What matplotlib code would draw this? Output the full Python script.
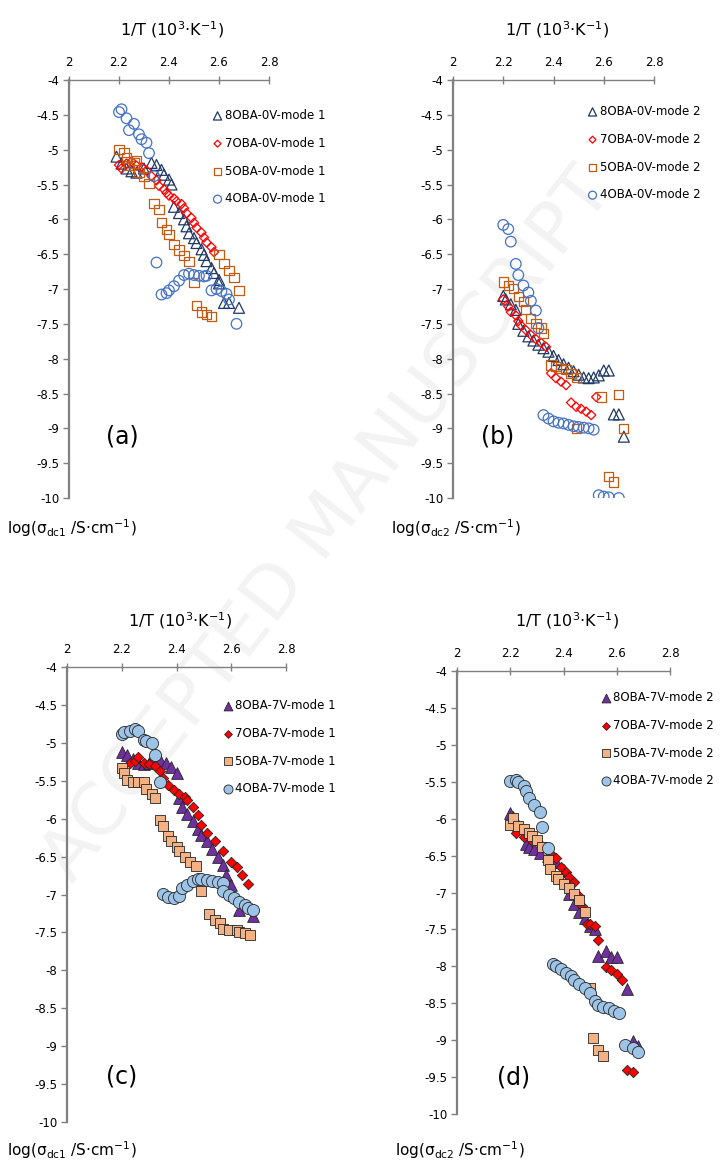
import numpy as np
import matplotlib
matplotlib.use("Agg")
import matplotlib.pyplot as plt

# ---------------- data ----------------
# panel (a): 0 V, mode 1
a8_x = [2.19, 2.21, 2.23, 2.25, 2.27, 2.30, 2.33, 2.35, 2.37, 2.38, 2.40, 2.41, 2.42, 2.44, 2.46, 2.47,
        2.48, 2.50, 2.51, 2.53, 2.54, 2.55, 2.57, 2.58, 2.60, 2.60, 2.62, 2.64, 2.68]
a8_y = [-5.10, -5.20, -5.27, -5.31, -5.33, -5.27, -5.19, -5.22, -5.29, -5.36, -5.43, -5.50, -5.82, -5.91, -6.00, -6.10,
        -6.20, -6.27, -6.34, -6.43, -6.51, -6.60, -6.70, -6.77, -6.87, -6.92, -7.20, -7.20, -7.27]
a7_x = [2.20, 2.21, 2.23, 2.25, 2.27, 2.29, 2.31, 2.33, 2.35, 2.36, 2.38, 2.39, 2.40, 2.42, 2.43, 2.45,
        2.46, 2.47, 2.49, 2.50, 2.51, 2.53, 2.54, 2.55, 2.57, 2.58]
a7_y = [-5.22, -5.27, -5.20, -5.17, -5.23, -5.25, -5.30, -5.38, -5.44, -5.52, -5.57, -5.62, -5.66, -5.70, -5.74, -5.78,
        -5.84, -5.91, -5.98, -6.05, -6.12, -6.19, -6.26, -6.33, -6.40, -6.47]
a5_x = [2.20, 2.22, 2.23, 2.24, 2.26, 2.27, 2.28, 2.30, 2.32, 2.34, 2.36, 2.37, 2.39, 2.40, 2.42, 2.44,
        2.46, 2.48, 2.50, 2.51, 2.53, 2.55, 2.57, 2.60, 2.62, 2.64, 2.66, 2.68]
a5_y = [-5.00, -5.04, -5.12, -5.23, -5.19, -5.15, -5.33, -5.38, -5.49, -5.77, -5.86, -6.05, -6.15, -6.22, -6.36, -6.44,
        -6.52, -6.60, -6.91, -7.24, -7.33, -7.37, -7.39, -6.51, -6.63, -6.73, -6.84, -7.02]
a4_x = [2.20, 2.21, 2.23, 2.24, 2.26, 2.28, 2.29, 2.31, 2.32, 2.34, 2.35, 2.37, 2.39, 2.40, 2.42, 2.44,
        2.46, 2.48, 2.50, 2.52, 2.54, 2.55, 2.57, 2.59, 2.61, 2.63, 2.64, 2.67]
a4_y = [-4.46, -4.42, -4.55, -4.72, -4.63, -4.78, -4.85, -4.90, -5.05, -5.38, -6.62, -7.08, -7.06, -7.02, -6.96, -6.88,
        -6.80, -6.78, -6.80, -6.81, -6.82, -6.81, -7.02, -7.00, -7.03, -7.07, -7.15, -7.50]

# panel (b): 0 V, mode 2
b8_x = [2.20, 2.21, 2.23, 2.25, 2.26, 2.28, 2.30, 2.32, 2.34, 2.36, 2.38, 2.40, 2.42, 2.44, 2.46, 2.48,
        2.50, 2.52, 2.54, 2.56, 2.58, 2.60, 2.62, 2.64, 2.66, 2.68]
b8_y = [-7.10, -7.15, -7.22, -7.30, -7.50, -7.60, -7.68, -7.74, -7.80, -7.85, -7.90, -7.96, -8.02, -8.08, -8.13, -8.18,
        -8.23, -8.27, -8.28, -8.27, -8.24, -8.17, -8.17, -8.80, -8.80, -9.12]
b7_x = [2.20, 2.22, 2.23, 2.25, 2.26, 2.27, 2.29, 2.31, 2.33, 2.35, 2.37, 2.39, 2.41, 2.43, 2.45, 2.47,
        2.49, 2.51, 2.53, 2.55, 2.57]
b7_y = [-7.15, -7.25, -7.33, -7.38, -7.46, -7.52, -7.59, -7.66, -7.72, -7.77, -7.83, -8.21, -8.28, -8.33, -8.38, -8.63,
        -8.69, -8.72, -8.76, -8.81, -8.55]
b5_x = [2.20, 2.22, 2.24, 2.26, 2.28, 2.29, 2.31, 2.33, 2.35, 2.36, 2.39, 2.41, 2.43, 2.45, 2.47, 2.49,
        2.49, 2.59, 2.62, 2.64, 2.66, 2.68]
b5_y = [-6.90, -6.95, -6.99, -7.11, -7.18, -7.29, -7.42, -7.49, -7.56, -7.64, -8.09, -8.11, -8.14, -8.16, -8.21, -8.27,
        -9.00, -8.55, -9.69, -9.77, -8.52, -9.00]
b4_x = [2.20, 2.22, 2.23, 2.25, 2.26, 2.28, 2.30, 2.31, 2.33, 2.34, 2.36, 2.38, 2.40, 2.42, 2.44, 2.46,
        2.48, 2.50, 2.52, 2.54, 2.56, 2.58, 2.60, 2.62, 2.66]
b4_y = [-6.08, -6.14, -6.32, -6.64, -6.80, -6.95, -7.05, -7.17, -7.31, -7.56, -8.81, -8.86, -8.90, -8.92, -8.93, -8.95,
        -8.97, -8.98, -8.99, -9.00, -9.02, -9.96, -9.98, -9.99, -10.00]

# panel (c): 7 V, mode 1
c8_x = [2.20, 2.22, 2.24, 2.26, 2.28, 2.30, 2.32, 2.34, 2.36, 2.38, 2.40, 2.41, 2.42, 2.44, 2.46, 2.48,
        2.49, 2.51, 2.53, 2.55, 2.57, 2.58, 2.60, 2.63, 2.68]
c8_y = [-5.12, -5.16, -5.21, -5.26, -5.28, -5.26, -5.20, -5.23, -5.27, -5.32, -5.40, -5.73, -5.84, -5.94, -6.03, -6.13,
        -6.21, -6.30, -6.40, -6.50, -6.61, -6.74, -6.87, -7.20, -7.28]
c7_x = [2.23, 2.25, 2.26, 2.28, 2.30, 2.32, 2.34, 2.35, 2.37, 2.39, 2.41, 2.43, 2.44, 2.46, 2.48, 2.49,
        2.51, 2.54, 2.57, 2.60, 2.62, 2.64, 2.66]
c7_y = [-5.27, -5.24, -5.19, -5.26, -5.28, -5.31, -5.37, -5.46, -5.55, -5.62, -5.67, -5.71, -5.76, -5.84, -5.95, -6.08,
        -6.19, -6.29, -6.43, -6.57, -6.64, -6.74, -6.86]
c5_x = [2.20, 2.21, 2.22, 2.24, 2.26, 2.28, 2.29, 2.31, 2.32, 2.34, 2.35, 2.37, 2.38, 2.40, 2.41, 2.43,
        2.45, 2.47, 2.49, 2.52, 2.54, 2.56, 2.57, 2.59, 2.62, 2.63, 2.65, 2.67]
c5_y = [-5.33, -5.40, -5.49, -5.52, -5.51, -5.52, -5.61, -5.67, -5.73, -6.02, -6.10, -6.23, -6.30, -6.38, -6.43, -6.50,
        -6.57, -6.63, -6.96, -7.26, -7.34, -7.38, -7.45, -7.47, -7.47, -7.49, -7.51, -7.54]
c4_x = [2.20, 2.21, 2.23, 2.25, 2.26, 2.28, 2.29, 2.31, 2.32, 2.34, 2.35, 2.37, 2.39, 2.41, 2.42, 2.44,
        2.46, 2.48, 2.49, 2.51, 2.53, 2.55, 2.57, 2.57, 2.59, 2.61, 2.63, 2.65, 2.66, 2.68]
c4_y = [-4.89, -4.86, -4.84, -4.82, -4.85, -4.96, -4.98, -5.00, -5.16, -5.51, -6.99, -7.03, -7.04, -7.02, -6.92, -6.87,
        -6.82, -6.79, -6.80, -6.81, -6.82, -6.83, -6.85, -6.96, -7.01, -7.05, -7.10, -7.14, -7.18, -7.21]

# panel (d): 7 V, mode 2
d8_x = [2.20, 2.21, 2.23, 2.26, 2.27, 2.29, 2.31, 2.34, 2.37, 2.40, 2.42, 2.42, 2.44, 2.46, 2.48, 2.50,
        2.52, 2.53, 2.56, 2.58, 2.60, 2.64, 2.66, 2.68]
d8_y = [-5.92, -5.98, -6.08, -6.34, -6.39, -6.41, -6.47, -6.51, -6.59, -6.70, -6.82, -7.02, -7.16, -7.26, -7.34, -7.45,
        -7.49, -7.86, -7.79, -7.88, -7.88, -8.31, -9.01, -9.08]
d7_x = [2.22, 2.25, 2.28, 2.31, 2.33, 2.35, 2.37, 2.39, 2.41, 2.42, 2.44, 2.46, 2.47, 2.49, 2.50, 2.52,
        2.53, 2.56, 2.58, 2.60, 2.62, 2.64, 2.66]
d7_y = [-6.20, -6.25, -6.30, -6.34, -6.39, -6.46, -6.53, -6.66, -6.72, -6.79, -6.86, -7.05, -7.18, -7.42, -7.43, -7.45,
        -7.64, -8.01, -8.05, -8.11, -8.18, -9.41, -9.43]
d5_x = [2.20, 2.21, 2.23, 2.25, 2.27, 2.28, 2.30, 2.32, 2.34, 2.35, 2.37, 2.38, 2.40, 2.42, 2.44, 2.46,
        2.48, 2.50, 2.51, 2.53, 2.55]
d5_y = [-6.08, -5.99, -6.10, -6.14, -6.19, -6.24, -6.29, -6.39, -6.56, -6.68, -6.77, -6.82, -6.88, -6.94, -7.02, -7.10,
        -7.27, -8.29, -8.97, -9.13, -9.21]
d4_x = [2.20, 2.22, 2.23, 2.25, 2.26, 2.27, 2.29, 2.31, 2.32, 2.34, 2.36, 2.37, 2.39, 2.41, 2.43, 2.44,
        2.46, 2.48, 2.50, 2.52, 2.53, 2.55, 2.57, 2.59, 2.61, 2.63, 2.66, 2.68]
d4_y = [-5.49, -5.47, -5.51, -5.56, -5.63, -5.72, -5.81, -5.91, -6.11, -6.40, -7.97, -8.00, -8.03, -8.09, -8.13, -8.18,
        -8.24, -8.30, -8.36, -8.47, -8.52, -8.55, -8.57, -8.60, -8.63, -9.07, -9.10, -9.16]

x_ticks = [2, 2.2, 2.4, 2.6, 2.8]
y_ticks = [-4, -4.5, -5, -5.5, -6, -6.5, -7, -7.5, -8, -8.5, -9, -9.5, -10]
x_title = "1/T (10$^{3}$·K$^{-1}$)"

# ---------------- figure ----------------
fig = plt.figure(figsize=(7.28, 11.67), dpi=100)

# faint watermark, kept under everything else
fig.text(0.45, 0.55, "ACCEPTED MANUSCRIPT", fontsize=52, color="#f3f3f3",
         rotation=52, ha="center", va="center", zorder=-10)

W, H = 728.0, 1167.0


def make_ax(l, r, t, b):
    ax = fig.add_axes([l / W, 1 - b / H, (r - l) / W, (b - t) / H])
    ax.patch.set_alpha(0)
    ax.set_xlim(2, 2.8)
    ax.set_ylim(-10, -4)
    ax.xaxis.tick_top()
    ax.set_xticks(x_ticks)
    ax.set_xticklabels(["2", "2.2", "2.4", "2.6", "2.8"])
    ax.set_yticks(y_ticks)
    ax.set_yticklabels(["%g" % v for v in y_ticks])
    for s in ["right", "bottom"]:
        ax.spines[s].set_visible(False)
    ax.spines["left"].set_color("#808080")
    ax.spines["left"].set_linewidth(1.6)
    ax.spines["top"].set_color("#808080")
    ax.spines["top"].set_linewidth(1.0)
    ax.tick_params(axis="x", direction="inout", length=6, width=1, color="#808080",
                   labelsize=8.5, pad=5)
    ax.tick_params(axis="y", direction="out", length=4, width=1, color="#808080",
                   labelsize=8.5, pad=3)
    return ax


open_styles = [
    ("^", "#1F3864", 62, "8OBA-0V"),
    ("D", "#FF0000", 22, "7OBA-0V"),
    ("s", "#C55A11", 44, "5OBA-0V"),
    ("o", "#4472C4", 58, "4OBA-0V"),
]
fill_styles = [
    ("^", "#7030A0", 72, "8OBA-7V"),
    ("D", "#FF0000", 28, "7OBA-7V"),
    ("s", "#F4B183", 56, "5OBA-7V"),
    ("o", "#9DC3E6", 76, "4OBA-7V"),
]

panels = [
    ((69, 269, 80, 498), [(a8_x, a8_y), (a7_x, a7_y), (a5_x, a5_y), (a4_x, a4_y)], open_styles, "mode 1",
     "(a)", (0.265, 0.146), (214, 109), 1, 528),
    ((453, 654, 80, 498), [(b8_x, b8_y), (b7_x, b7_y), (b5_x, b5_y), (b4_x, b4_y)], open_styles, "mode 2",
     "(b)", (0.224, 0.146), (589, 105), 2, 528),
    ((67, 286, 667, 1122), [(c8_x, c8_y), (c7_x, c7_y), (c5_x, c5_y), (c4_x, c4_y)], fill_styles, "mode 1",
     "(c)", (0.25, 0.10), (224, 699), 1, 1150),
    ((457, 670, 671, 1114), [(d8_x, d8_y), (d7_x, d7_y), (d5_x, d5_y), (d4_x, d4_y)], fill_styles, "mode 2",
     "(d)", (0.267, 0.083), (602, 691), 2, 1150),
]

for box, series, styles, mode, tag, tagpos, legpos, dcn, ylab_y in panels:
    l, r, t, b = box
    ax = make_ax(l, r, t, b)
    filled = styles is fill_styles
    for (xs, ys), (mk, col, s, name) in zip(series, styles):
        if filled:
            ax.scatter(xs, ys, marker=mk, s=s, facecolor=col, edgecolor="#262626",
                       linewidth=0.6, label=name + "-" + mode, zorder=3)
        else:
            ax.scatter(xs, ys, marker=mk, s=s, facecolor="none", edgecolor=col,
                       linewidth=0.9, label=name + "-" + mode, zorder=3)
    leg = ax.legend(loc="upper left", bbox_to_anchor=(legpos[0] / W, 1 - legpos[1] / H),
                    bbox_transform=fig.transFigure, frameon=False, fontsize=8.5,
                    handlelength=0.6, handletextpad=0.3, labelspacing=1.25,
                    borderpad=0, borderaxespad=0, markerscale=0.75)
    ax.text(tagpos[0], tagpos[1], tag, transform=ax.transAxes, fontsize=17,
            ha="center", va="center")
    fig.text((l + r) / 2 / W + 0.005, 1 - 30 / H if t < 300 else 1 - 621 / H, x_title,
             fontsize=11.5, ha="center", va="center")
    fig.text((l - 62) / W if l > 300 else 7 / W, 1 - ylab_y / H,
             "log(σ$_{\\mathregular{dc%d}}$ /S·cm$^{-1}$)" % dcn,
             fontsize=11, ha="left", va="center")

fig.savefig("out.png", dpi=100)
